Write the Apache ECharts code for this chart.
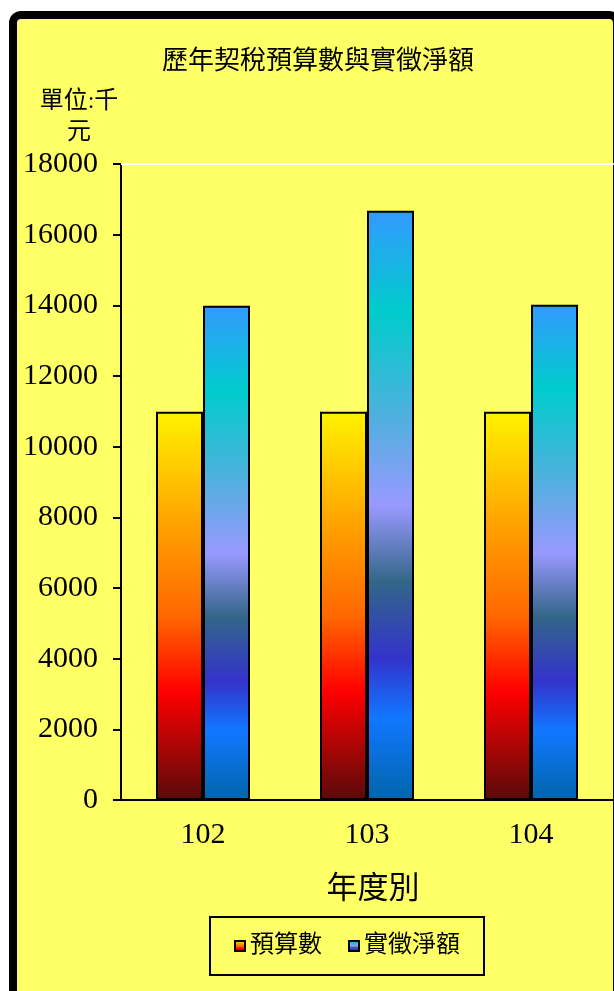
<!DOCTYPE html>
<html>
<head>
<meta charset="utf-8">
<script src="https://cdn.jsdelivr.net/npm/echarts@6/dist/echarts.min.js"></script>
<style>
html,body{margin:0;padding:0;background:#fff;}
#c{width:614px;height:991px;}
</style>
</head>
<body>
<div id="c"></div>
<script>
const categories = ['102', '103', '104'];
const budgetValues = [10990, 10990, 10990];
const actualValues = [13990, 16680, 14020];
const seriesNames = ['預算數', '實徵淨額'];
const titleText = '歷年契稅預算數與實徵淨額';
const unitText = '單位:千\n元';
const xAxisName = '年度別';

const FONT = "'Liberation Serif','Noto Sans CJK TC',serif";

const budgetGradient = {
  type: 'linear', x: 0, y: 0, x2: 0, y2: 1,
  colorStops: [
    {offset: 0, color: '#FFF200'},
    {offset: 0.27, color: '#FFA800'},
    {offset: 0.53, color: '#FF6600'},
    {offset: 0.72, color: '#FF0000'},
    {offset: 1, color: '#5A0A0A'}
  ]
};
const actualGradient = {
  type: 'linear', x: 0, y: 0, x2: 0, y2: 1,
  colorStops: [
    {offset: 0, color: '#3399FF'},
    {offset: 0.17, color: '#00CCCC'},
    {offset: 0.35, color: '#4FB0DE'},
    {offset: 0.5, color: '#9999FF'},
    {offset: 0.63, color: '#336688'},
    {offset: 0.76, color: '#3333CC'},
    {offset: 0.86, color: '#1177FF'},
    {offset: 1, color: '#0066AA'}
  ]
};

const chart = echarts.init(document.getElementById('c'), null, {renderer: 'canvas'});
chart.setOption({
  backgroundColor: '#ffffff',
  animation: false,
  graphic: [
    {
      type: 'rect', z: -10, silent: true,
      shape: {x: 13, y: 15, width: 604, height: 995, r: 8},
      style: {fill: '#FFFF66', stroke: '#000', lineWidth: 8}
    },
    {
      type: 'text', z: 10,
      style: {
        text: unitText, x: 79, y: 86, textAlign: 'center', textVerticalAlign: 'top',
        fontSize: 24, fontFamily: FONT, lineHeight: 31, fill: '#000'
      }
    }
  ],
  title: {
    text: titleText, left: 157, top: 44,
    textStyle: {fontSize: 26, fontWeight: 'normal', fontFamily: FONT, color: '#000'}
  },
  legend: {
    data: seriesNames,
    left: 210, top: 917,
    padding: [17, 24, 17, 24],
    borderColor: '#000', borderWidth: 2,
    itemWidth: 10, itemHeight: 10, itemGap: 26,
    icon: 'rect',
    textStyle: {fontSize: 24, fontFamily: FONT, color: '#000'}
  },
  grid: {left: 121, top: 164, right: 1, bottom: 191, containLabel: false},
  xAxis: [
    {
      type: 'category', data: categories,
      axisLine: {lineStyle: {color: '#000', width: 2}},
      axisTick: {show: false},
      axisLabel: {fontSize: 30, fontFamily: FONT, color: '#000', margin: 20},
      name: xAxisName, nameLocation: 'middle', nameGap: 74,
      nameTextStyle: {fontSize: 31, fontFamily: FONT, color: '#000', padding: [0, 0, 0, 12]}
    },
    {
      type: 'category', data: categories, position: 'top',
      axisLine: {show: true, lineStyle: {color: '#fff', width: 2}},
      axisTick: {show: false}, axisLabel: {show: false}
    }
  ],
  yAxis: {
    type: 'value', min: 0, max: 18000, interval: 2000,
    axisLine: {show: true, lineStyle: {color: '#000', width: 2}},
    axisTick: {show: true, length: 8, inside: false, lineStyle: {color: '#000', width: 2}},
    splitLine: {show: false},
    axisLabel: {fontSize: 30, fontFamily: FONT, color: '#000', margin: 23,
      formatter: function (v) { return String(v); }}
  },
  series: [
    {
      name: seriesNames[0], type: 'bar', data: budgetValues,
      barWidth: 47, barGap: '0%',
      itemStyle: {color: budgetGradient, borderColor: '#000', borderWidth: 2}
    },
    {
      name: seriesNames[1], type: 'bar', data: actualValues,
      barWidth: 47, barGap: '0%',
      itemStyle: {color: actualGradient, borderColor: '#000', borderWidth: 2}
    }
  ]
});
</script>
</body>
</html>
